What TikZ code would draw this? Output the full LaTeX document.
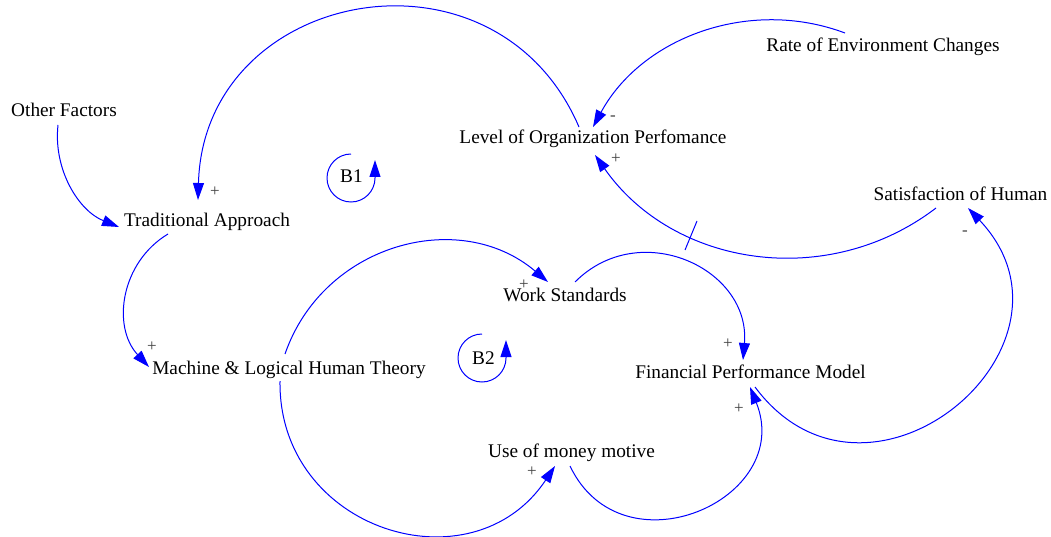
\documentclass[tikz,border=0pt]{standalone}
\usepackage{fontspec}
\setmainfont{Liberation Serif}
\usetikzlibrary{arrows.meta,calc}
\begin{document}
\begin{tikzpicture}[x=1pt,y=1pt,
  lbl/.style={font=\fontsize{19.3}{22}\selectfont, anchor=base, inner sep=0pt, text=black},
  pol/.style={font=\fontsize{17}{20}\selectfont, text=black!75, inner sep=0pt},
  link/.style={draw=blue, line width=1pt, -{Triangle[length=17pt,width=11pt]}},
  loopc/.style={draw=blue, line width=1pt, -{Triangle[length=17pt,width=11pt]}},
  delaymark/.style={draw=blue, line width=1pt}]
\useasboundingbox (0,0) rectangle (1051,536);
% variables
\node[lbl] (of)  at (64,419)    {Other Factors};
\node[lbl] (ta)  at (207,309)   {Traditional Approach};
\node[lbl] (lop) at (593,392)   {Level of Organization Perfomance};
\node[lbl] (rec) at (883,484)   {Rate of Environment Changes};
\node[lbl] (soh) at (960.5,335) {Satisfaction of Human};
\node[lbl] (ws)  at (565,235)   {Work Standards};
\node[lbl] (ml)  at (289,162)   {Machine \& Logical Human Theory};
\node[lbl] (fpm) at (750.5,158) {Financial Performance Model};
\node[lbl] (um)  at (571.5,79)  {Use of money motive};
\node[lbl] (b1)  at (351.5,353) {B1};
\node[lbl] (b2)  at (483.5,172) {B2};
% causal links
\draw[link] ($(of.base)+(-6,-8)$) to[bend right=37.2, looseness=0.95] ($(ta.base)+(-88,0)$);
\draw[link] ($(lop.base)+(-14,17)$) to[bend right=77.6, looseness=1.40] ($(ta.base)+(-9,27)$);
\draw[link] ($(rec.base)+(-38,19)$) to[bend right=41, looseness=0.97] ($(lop.base)+(0,17)$);
\draw[link] ($(soh.base)+(-24.5,-7)$) to[bend left=46.2, looseness=1.01] ($(lop.base)+(2,-11)$);
\draw[delaymark] (697,315) -- (685,286);
\draw[link] ($(ta.base)+(-39,-7)$) to[bend right=50.9, looseness=1.05] ($(ml.base)+(-140,7)$);
\draw[link] ($(ml.base)+(-4,20)$) to[bend left=55.6, looseness=1.09] ($(ws.base)+(-17,19)$);
\draw[link] ($(ml.base)+(-9,-7)$) to[bend right=73.6, looseness=1.33] ($(um.base)+(-16.5,-9)$);
\draw[link] ($(ws.base)+(10,19)$) to[bend left=70, looseness=1.27] ($(fpm.base)+(-7.5,18)$);
\draw[link] ($(um.base)+(-1.5,-9)$) to[bend right=88.2, looseness=1.58] ($(fpm.base)+(-0.5,-9)$);
\draw[link] ($(fpm.base)+(4.5,-9)$) to[bend right=93.35, looseness=1.74] ($(soh.base)+(7.5,-7)$);
% polarities
\node[pol] (p1) at (215,344) {+};
\node[pol] (p2) at (613,418) {-};
\node[pol] (p3) at (616,377) {+};
\node[pol] (p4) at (152,189) {+};
\node[pol] (p5) at (524,251) {+};
\node[pol] (p6) at (532,64)  {+};
\node[pol] (p7) at (728,192) {+};
\node[pol] (p8) at (739,127) {+};
\node[pol] (p9) at (965,303) {-};
% loop markers
\draw[loopc] ($(b1.base)+(-0.5,29)$) arc[start angle=90, end angle=360, radius=24] -- ++(0,18);
\draw[loopc] ($(b2.base)+(-1.5,30)$) arc[start angle=90, end angle=360, radius=24] -- ++(0,18);
\end{tikzpicture}
\end{document}
